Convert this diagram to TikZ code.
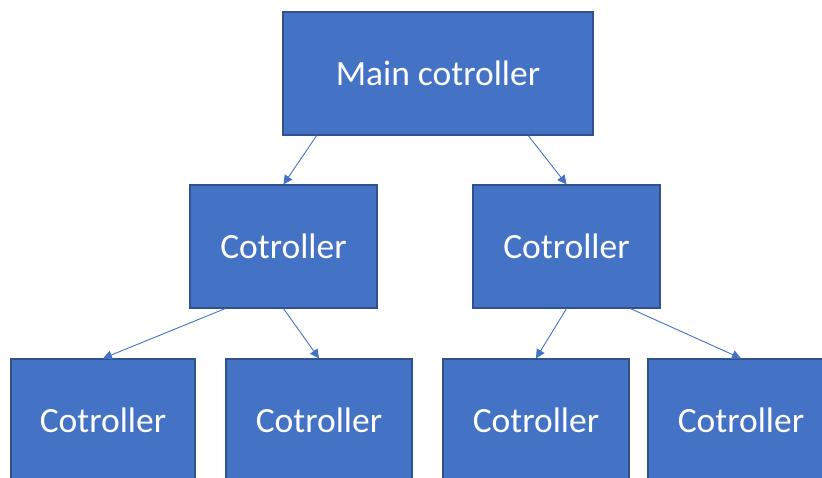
\documentclass[tikz,border=0pt]{standalone}
\usepackage{fontspec}
\setmainfont{Carlito}
\usetikzlibrary{arrows.meta,calc}

\definecolor{BoxBlue}{HTML}{4472C4}
\definecolor{EdgeBlue}{HTML}{2F528F}

\tikzset{
  ctrl/.style={draw=EdgeBlue,line width=1.2pt,fill=BoxBlue,text=white,inner sep=0pt,
    minimum height=123pt,font=\fontsize{35.5}{40}\selectfont},
  link/.style={BoxBlue,line width=0.9pt,-{Triangle[length=9pt,width=9pt]}}
}

\begin{document}
\begin{tikzpicture}[x=1pt,y=-1pt]
\useasboundingbox (0,0) rectangle (822,477);

\node[ctrl,minimum width=310pt] (main) at (438,73.5) {Main cotroller};
\node[ctrl,minimum width=187pt] (cl) at (283.5,246.5) {Cotroller};
\node[ctrl,minimum width=187pt] (cr) at (566.5,246.5) {Cotroller};

\node[ctrl,minimum width=184pt] (c1) at (103,420.5) {Cotroller};
\node[ctrl,minimum width=186pt] (c2) at (319,420.5) {Cotroller};
\node[ctrl,minimum width=186pt] (c3) at (536,420.5) {Cotroller};
\node[ctrl,minimum width=186pt] (c4) at (741,420.5) {Cotroller};

\draw[link] ($(main.south west)!.11!(main.south east)$) -- (cl.north);
\draw[link] ($(main.south west)!.79!(main.south east)$) -- (cr.north);
\draw[link] ($(cl.south west)!.19!(cl.south east)$) -- (c1.north);
\draw[link] ($(cl.south west)!.5!(cl.south east)$) -- (c2.north);
\draw[link] ($(cr.south west)!.5!(cr.south east)$) -- (c3.north);
\draw[link] ($(cr.south west)!.84!(cr.south east)$) -- (c4.north);
\end{tikzpicture}
\end{document}
